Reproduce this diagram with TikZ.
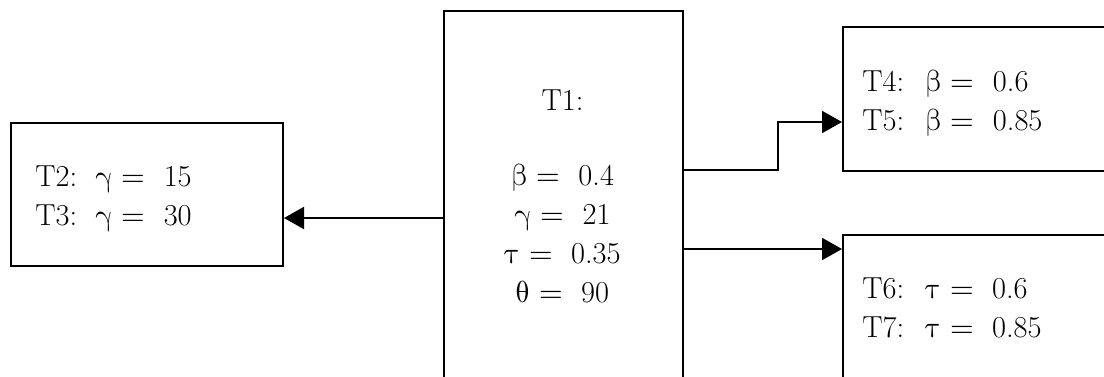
\documentclass[tikz,border=0pt]{standalone}
\usepackage{unicode-math}
\setmathfont{Latin Modern Math}
\usetikzlibrary{arrows.meta}
\newcommand{\grB}{\symup{\beta}}
\newcommand{\grG}{\symup{\gamma}}
\newcommand{\grT}{\symup{\tau}}
\newcommand{\grH}{\symup{\theta}}
\begin{document}
\begin{tikzpicture}[x=0.5pt,y=-0.5pt,
  box/.style={draw,line width=1pt,inner sep=0pt,anchor=north west},
  lbl/.style={inner sep=0pt,font=\fontsize{15.2}{19.5}\selectfont},
  conn/.style={line width=1pt,-{Triangle[length=10pt,width=11pt]}}]
\useasboundingbox (0,0) rectangle (1104,376);
\clip (0,0) rectangle (1104,376);
% boxes
\node[box,minimum width=119.5pt,minimum height=205pt] (t1) at (443,10) {};
\node[box,minimum width=136pt,minimum height=71.5pt] (t2) at (10,122) {};
\node[box,minimum width=139pt,minimum height=72pt] (t4) at (842,26) {};
\node[box,minimum width=139pt,minimum height=93pt] (t6) at (842,234) {};
% texts (base anchor = baseline of the last line)
\node[lbl,align=center,anchor=base] (t1t) at (562.5,302)
  {T1:\\[18pt]$\grB =$\ \ 0.4\\$\grG =$\ \ 21\\$\grT =$\ \ 0.35\\$\grH =$\ \ 90};
\node[lbl,align=left,anchor=base west] (t2t) at (35,225)
  {T2:\hspace{0.6em}$\grG =$\ \ 15\\T3:\hspace{0.6em}$\grG =$\ \ 30};
\node[lbl,align=left,anchor=base west] (t4t) at (862,130)
  {T4:\hspace{0.7em}$\grB =$\ \ 0.6\\T5:\hspace{0.7em}$\grB =$\ \ 0.85};
\node[lbl,align=left,anchor=base west] (t6t) at (862,337)
  {T6:\hspace{0.7em}$\grT =$\ \ 0.6\\T7:\hspace{0.7em}$\grT =$\ \ 0.85};
% connectors
\coordinate (c2) at (0,218);
\coordinate (c4a) at (0,170);
\coordinate (c4b) at (778,122);
\coordinate (c6) at (0,249);
\draw[conn] (t1.west|-c2) -- (t2.east|-c2);
\draw[conn] (t1.east|-c4a) -| (c4b) -- (t4.west|-c4b);
\draw[conn] (t1.east|-c6) -- (t6.west|-c6);
\end{tikzpicture}
\end{document}
